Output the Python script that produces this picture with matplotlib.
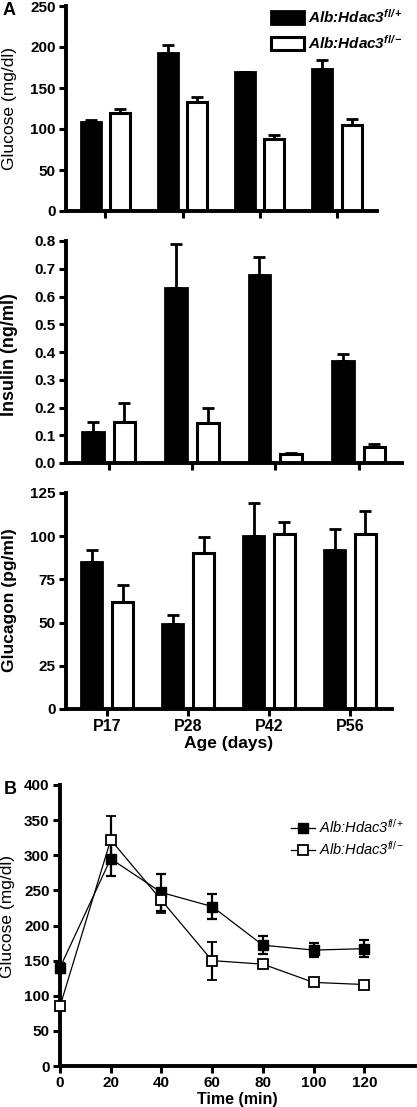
import numpy as np
import matplotlib
matplotlib.use('Agg')
import matplotlib.pyplot as plt
from matplotlib.ticker import FormatStrFormatter
from matplotlib.font_manager import FontProperties
from matplotlib.lines import Line2D

plt.rcParams['font.family'] = ['Liberation Sans', 'DejaVu Sans']
plt.rcParams['mathtext.fontset'] = 'custom'
plt.rcParams['mathtext.rm'] = 'Liberation Sans'
plt.rcParams['mathtext.it'] = 'Liberation Sans:italic'
plt.rcParams['mathtext.bf'] = 'Liberation Sans:italic:bold'

# Data
ages = ['P17', 'P28', 'P42', 'P56']

glucose_het = [108, 193, 169, 173]
glucose_het_err = [2.5, 9, 1, 11]
glucose_ko = [120, 133, 88, 105]
glucose_ko_err = [4, 5.5, 5, 7.5]

insulin_het = [0.113, 0.630, 0.677, 0.368]
insulin_het_err = [0.036, 0.160, 0.065, 0.024]
insulin_ko = [0.149, 0.145, 0.032, 0.056]
insulin_ko_err = [0.067, 0.055, 0.003, 0.012]

glucagon_het = [85, 49, 100, 92]
glucagon_het_err = [7, 5.5, 19, 12]
glucagon_ko = [62, 90, 101, 101]
glucagon_ko_err = [10, 9.5, 7, 13.5]

gtt_time = [0, 20, 40, 60, 80, 100, 120]
gtt_het = [140, 295, 247, 227, 172, 165, 167]
gtt_het_err = [7, 25, 27, 18, 13, 10, 12]
gtt_ko = [85, 322, 236, 150, 145, 119, 116]
gtt_ko_err = [3, 34, 18, 27, 4, 4, 2]

lab_het = r'Alb:Hdac3$^{\mathbf{fl/+}}$'
lab_ko = r'Alb:Hdac3$^{\mathbf{fl/-}}$'
lab_het_b = r'Alb:Hdac3$^{\mathit{fl/+}}$'
lab_ko_b = r'Alb:Hdac3$^{\mathit{fl/-}}$'

W, H = 417, 1107
fig = plt.figure(figsize=(W / 100, H / 100), dpi=100)


def px_axes(left, top, right, bottom):
    return fig.add_axes([left / W, 1 - bottom / H, (right - left) / W,
                         (bottom - top) / H])


def style_axes(ax):
    for s in ['top', 'right']:
        ax.spines[s].set_visible(False)
    for s in ['left', 'bottom']:
        ax.spines[s].set_linewidth(2.8)
    ax.tick_params(width=2.2, length=5, pad=2.5, labelsize=11)
    for t in ax.get_yticklabels() + ax.get_xticklabels():
        t.set_fontweight('bold')


def bar_panel(ax, het, het_err, ko, ko_err):
    x = np.arange(len(ages))
    off, w = 0.19, 0.26
    ek = dict(elinewidth=2, capthick=2, ecolor='black')
    ax.bar(x - off, het, w, color='black', edgecolor='black', linewidth=2,
           yerr=[np.zeros(len(het)), het_err], capsize=4, error_kw=ek,
           label=lab_het)
    ax.bar(x + off, ko, w, color='white', edgecolor='black', linewidth=2.2,
           yerr=[np.zeros(len(ko)), ko_err], capsize=4, error_kw=ek,
           label=lab_ko)
    ax.set_xticks(x)
    ax.set_xlim(-0.51, 3.52)


# Panel A - glucose
ax1 = px_axes(66, 6, 377, 211)
bar_panel(ax1, glucose_het, glucose_het_err, glucose_ko, glucose_ko_err)
ax1.set_ylim(0, 250)
ax1.set_yticks(np.arange(0, 251, 50))
ax1.set_xticklabels([])
style_axes(ax1)
ax1.legend(loc='upper left', bbox_to_anchor=(271 / W, 1 - 8 / H),
           bbox_transform=fig.transFigure, frameon=False, borderpad=0,
           borderaxespad=0, handlelength=2.15, handleheight=0.95,
           handletextpad=0.25, labelspacing=0.5,
           prop=FontProperties(family='Liberation Sans', weight='bold',
                               style='italic', size=11))

# Insulin
ax2 = px_axes(66, 241, 402, 463)
bar_panel(ax2, insulin_het, insulin_het_err, insulin_ko, insulin_ko_err)
ax2.set_ylim(0, 0.8)
ax2.set_yticks(np.arange(0, 0.81, 0.1))
ax2.yaxis.set_major_formatter(FormatStrFormatter('%.1f'))
ax2.set_xticklabels([])
style_axes(ax2)

# Glucagon
ax3 = px_axes(66, 493, 392, 709)
bar_panel(ax3, glucagon_het, glucagon_het_err, glucagon_ko, glucagon_ko_err)
ax3.set_ylim(0, 125)
ax3.set_yticks(np.arange(0, 126, 25))
ax3.set_xticklabels(ages)
style_axes(ax3)
ax3.tick_params(axis='x', labelsize=11.5)
ax3.set_xlabel('Age (days)', fontsize=12.5, fontweight='bold', labelpad=1)

# Panel B - glucose tolerance test
ax4 = px_axes(60, 785, 415, 1066)
ax4.errorbar(gtt_time, gtt_het, yerr=gtt_het_err, color='black', lw=0.9,
             marker='s', ms=6.5, mfc='black', mec='black', capsize=3.8,
             elinewidth=1.6, capthick=1.6, zorder=3, clip_on=False)
ax4.errorbar(gtt_time, gtt_ko, yerr=gtt_ko_err, color='black', lw=0.9,
             marker='s', ms=6.5, mfc='white', mec='black', mew=1.3,
             capsize=3.8, elinewidth=1.6, capthick=1.6, zorder=4,
             clip_on=False)
ax4.set_xlim(0, 140)
ax4.set_ylim(0, 400)
ax4.set_xticks(gtt_time)
ax4.set_yticks(np.arange(0, 401, 50))
style_axes(ax4)
ax4.set_xlabel('Time (min)', fontsize=11.5, fontweight='bold', labelpad=1)
handles_b = [
    Line2D([], [], color='black', lw=0.9, marker='s', ms=6.5, mfc='black',
           mec='black'),
    Line2D([], [], color='black', lw=0.9, marker='s', ms=6.5, mfc='white',
           mec='black', mew=1.3),
]
ax4.legend(handles_b, [lab_het_b, lab_ko_b], loc='upper left',
           bbox_to_anchor=(291 / W, 1 - 818 / H),
           bbox_transform=fig.transFigure, frameon=False, borderpad=0,
           borderaxespad=0, handlelength=1.65, handletextpad=0.3,
           labelspacing=0.3,
           prop=FontProperties(family='Liberation Sans', style='italic',
                               size=10.5))

# Y labels
fig.text(10 / W, 1 - 109 / H, 'Glucose (mg/dl)', rotation=90, ha='center',
         va='center', fontsize=12.5)
fig.text(10 / W, 1 - 355 / H, 'Insulin (ng/ml)', rotation=90, ha='center',
         va='center', fontsize=13, fontweight='bold')
fig.text(10 / W, 1 - 600 / H, 'Glucagon (pg/ml)', rotation=90, ha='center',
         va='center', fontsize=12.5, fontweight='bold')
fig.text(8 / W, 1 - 917 / H, 'Glucose (mg/dl)', rotation=90, ha='center',
         va='center', fontsize=12.5)

# Panel letters
fig.text(3 / W, 1 - 2 / H, 'A', ha='left', va='top', fontsize=13,
         fontweight='bold')
fig.text(4 / W, 1 - 781 / H, 'B', ha='left', va='top', fontsize=13,
         fontweight='bold')

fig.savefig('out.png', dpi=100)
